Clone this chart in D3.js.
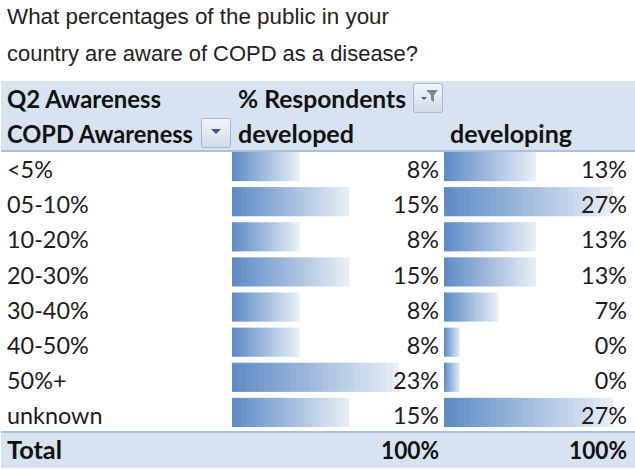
<!DOCTYPE html>
<html>
<head>
    <meta charset="utf-8">
    <script src="https://cdnjs.cloudflare.com/ajax/libs/d3/7.9.0/d3.min.js"></script>
    <style>
        html, body { margin: 0; padding: 0; background: #fff; }
        svg { display: block; }
        .title { font-family: "Liberation Sans", sans-serif; font-size: 22.2px; fill: #222; }
        .cell { font-family: Lato, sans-serif; font-size: 23.4px; fill: #1c1c1c; }
        .head { font-family: Lato, sans-serif; font-size: 24px; font-weight: 700; fill: #111; }
    </style>
</head>
<body>
<div id="chart"></div>
<script>

const titleLines = ["What percentages of the public in your", "country are aware of COPD as a disease?"]
const categories = ["<5%", "05-10%", "10-20%", "20-30%", "30-40%", "40-50%", "50%+", "unknown"]

// unrounded shares, the labels round them
const developed = [7.7, 15.4, 7.7, 15.4, 7.7, 7.7, 23.1, 15.4]
const developing = [13.3, 26.7, 13.3, 13.3, 6.7, 0, 0, 26.7]
const totals = ["100%", "100%"]

const width = 635
const height = 470

const svg = d3.select("#chart")
    .append("svg")
    .attr("width", width)
    .attr("height", height)

// bar gradient, banded a bit like the excel data bars

const defs = svg.append("defs")
const barColor = d3.interpolateRgb("#5f8cc6", "#e6edf6")
const grad = defs.append("linearGradient").attr("id", "barGrad")
const bands = 26
d3.range(bands).forEach((i) => {
    const c = barColor(i / (bands - 1))
    grad.append("stop").attr("offset", i / bands).attr("stop-color", c)
    grad.append("stop").attr("offset", (i + 1) / bands).attr("stop-color", c)
})

const btnGrad = defs.append("linearGradient").attr("id", "btnGrad").attr("x2", 0).attr("y2", 1)
btnGrad.append("stop").attr("offset", 0).attr("stop-color", "#f3f6fa")
btnGrad.append("stop").attr("offset", 1).attr("stop-color", "#cfdbe9")

// title, Helvetica is a little different from Liberation so pin the widths

const titleWidths = [382, 411]

svg.selectAll(".title")
    .data(titleLines)
    .join("text")
    .attr("class", "title")
    .attr("x", 7)
    .attr("y", (d, i) => 24 + i * 37)
    .attr("textLength", (d, i) => titleWidths[i])
    .attr("lengthAdjust", "spacingAndGlyphs")
    .text(d => d)

// header and total bands

svg.append("rect").attr("x", 1).attr("y", 81).attr("width", 634).attr("height", 70).attr("fill", "#d8e3f1")
svg.append("rect").attr("x", 1).attr("y", 150).attr("width", 634).attr("height", 2).attr("fill", "#a9c1de")
svg.append("rect").attr("x", 1).attr("y", 432).attr("width", 634).attr("height", 36).attr("fill", "#d8e3f1")
svg.append("rect").attr("x", 1).attr("y", 431).attr("width", 634).attr("height", 2).attr("fill", "#a9c1de")

// rows

const y = d3.scaleBand()
    .domain(categories)
    .range([149, 430])
    .paddingInner(0.17)
    .paddingOuter(0.085)

const xDeveloped = d3.scaleLinear().domain([0, d3.max(developed)]).range([18, 167])
const xDeveloping = d3.scaleLinear().domain([0, d3.max(developing)]).range([16, 169])
const pct = d3.format(".0f")

const columns = [
    {values: developed, x: xDeveloped, left: 232, right: 439},
    {values: developing, x: xDeveloping, left: 444, right: 627}
]

columns.forEach((col) => {
    svg.append("g")
        .selectAll("rect")
        .data(col.values)
        .join("rect")
        .attr("x", col.left)
        .attr("y", (d, i) => y(categories[i]))
        .attr("width", d => col.x(d))
        .attr("height", y.bandwidth())
        .attr("fill", "url(#barGrad)")

    svg.append("g")
        .selectAll("text")
        .data(col.values)
        .join("text")
        .attr("class", "cell")
        .attr("x", col.right)
        .attr("y", (d, i) => y(categories[i]) + y.bandwidth() - 3)
        .attr("text-anchor", "end")
        .text(d => pct(d) + "%")
})

svg.append("g")
    .selectAll("text")
    .data(categories)
    .join("text")
    .attr("class", "cell")
    .attr("x", 7)
    .attr("y", d => y(d) + y.bandwidth() - 3)
    .text(d => d)

// header text: string, x, baseline, anchor, width in the picture

const headText = [
    ["Q2 Awareness", 7, 108, "start", 154],
    ["% Respondents", 238, 108, "start", 168],
    ["COPD Awareness", 7, 143, "start", 186],
    ["developed", 238, 143, "start", 116],
    ["developing", 450, 143, "start", 122],
    ["Total", 7, 459, "start", 55],
    [totals[0], 439, 459, "end", 58],
    [totals[1], 627, 459, "end", 58]
]

svg.selectAll(".head")
    .data(headText)
    .join("text")
    .attr("class", "head")
    .attr("x", d => d[1])
    .attr("y", d => d[2])
    .attr("text-anchor", d => d[3])
    .attr("textLength", d => d[4])
    .attr("lengthAdjust", "spacingAndGlyphs")
    .text(d => d[0])

// the two filter buttons

function button(bx, by) {
    const g = svg.append("g").attr("transform", `translate(${bx},${by})`)
    g.append("rect")
        .attr("x", 0.5).attr("y", 0.5)
        .attr("width", 29).attr("height", 29)
        .attr("rx", 2)
        .attr("fill", "url(#btnGrad)")
        .attr("stroke", "#a7b8cc")
    return g
}

const filterBtn = button(413, 83)
filterBtn.append("path").attr("d", "M8 14h6l-3 3z").attr("fill", "#3d5a9a")
filterBtn.append("path").attr("d", "M13 7h12l-4 5v7l-3-2v-5z").attr("fill", "#7d8790")

const sortBtn = button(201, 118)
sortBtn.append("path").attr("d", "M10 11h10l-5 5z").attr("fill", "#3d4f9a")

</script>
</body>
</html>
